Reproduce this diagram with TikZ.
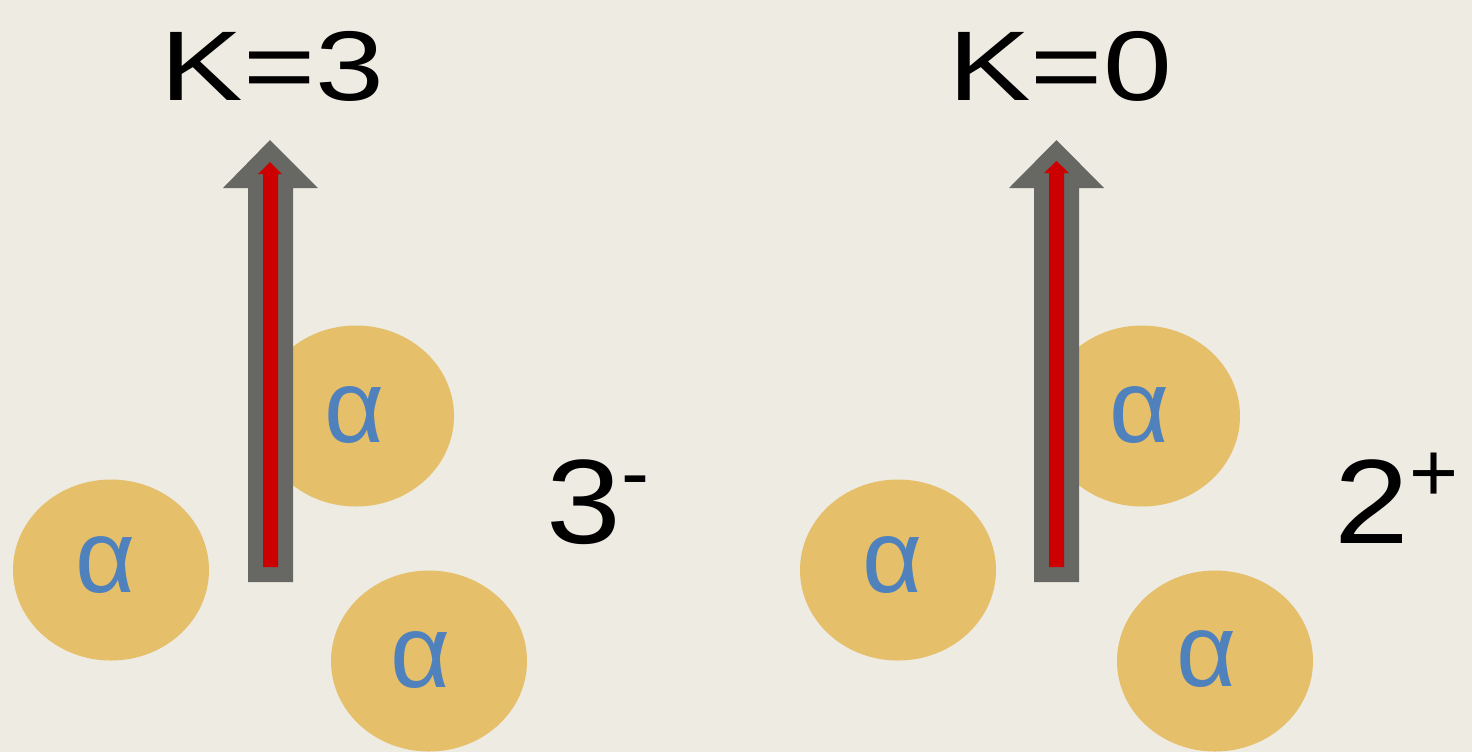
\documentclass[tikz,border=0pt]{standalone}
\usepackage{fontspec}
\setmainfont{Liberation Sans}
\newfontfamily\widesans[FakeStretch=1.25]{Liberation Sans}
\newfontfamily\spinsans[FakeStretch=1.12]{Liberation Sans}
\usetikzlibrary{shapes.geometric}
\definecolor{bg}{HTML}{EEEBE3}
\definecolor{shaftgray}{HTML}{676763}
\definecolor{corered}{HTML}{CC0000}
\definecolor{gold}{HTML}{E5BF69}
\definecolor{alphablue}{HTML}{4F81BD}
\tikzset{
  ball/.style={ellipse, fill=gold, draw=none, minimum width=98pt, minimum height=90.5pt, inner sep=0pt},
  alphatext/.style={text=alphablue, inner sep=0pt, font=\fontsize{52}{52}\selectfont},
  klabel/.style={text=black, inner sep=0pt, font=\widesans\fontsize{49.5}{49.5}\selectfont},
  spin/.style={text=black, inner sep=0pt, font=\spinsans\fontsize{60}{60}\selectfont},
}
\newcommand{\supmark}[1]{\raisebox{21pt}{\rmfamily\fontsize{42}{42}\selectfont #1}}
\begin{document}
\begin{tikzpicture}[x=0.5pt,y=-0.5pt]
\fill[bg] (0,0) rectangle (1472,752);
\useasboundingbox (0,0) rectangle (1472,752);
% left cluster
\node[ball] (a1) at (111,570) {};
\node[ball] (a2) at (356,416) {};
\node[ball] (a3) at (429,661) {};
\node[alphatext] (t1) at (105.5,565) {α};
\node[alphatext] (t2) at (355,415) {α};
\node[alphatext] (t3) at (421,660) {α};
\fill[shaftgray] (248,582) -- (248,188) -- (223,188) -- (270,140) -- (318,188) -- (293,188) -- (293,582) -- cycle;
\fill[corered] (263,567) -- (263,174) -- (258,174) -- (270,162) -- (282,174) -- (278,174) -- (278,567) -- cycle;
\node[klabel, anchor=base] (k1) at (272.5,100) {K=3};
\node[spin, anchor=base west] (j1) at (546,543) {3\supmark{-}};
% right cluster
\node[ball] (b1) at (898,570) {};
\node[ball] (b2) at (1142,416) {};
\node[ball] (b3) at (1215,661) {};
\node[alphatext] (u1) at (893,565) {α};
\node[alphatext] (u2) at (1140,415) {α};
\node[alphatext] (u3) at (1207,659) {α};
\fill[shaftgray] (1034,582) -- (1034,188) -- (1009,188) -- (1056.5,140) -- (1104,188) -- (1079,188) -- (1079,582) -- cycle;
\fill[corered] (1049,567) -- (1049,173) -- (1044,173) -- (1056.5,161) -- (1069,173) -- (1064,173) -- (1064,567) -- cycle;
\node[klabel, anchor=base] (k2) at (1060,100) {K=0};
\node[spin, anchor=base west] (j2) at (1334,543) {2\supmark{+}};
\end{tikzpicture}
\end{document}
